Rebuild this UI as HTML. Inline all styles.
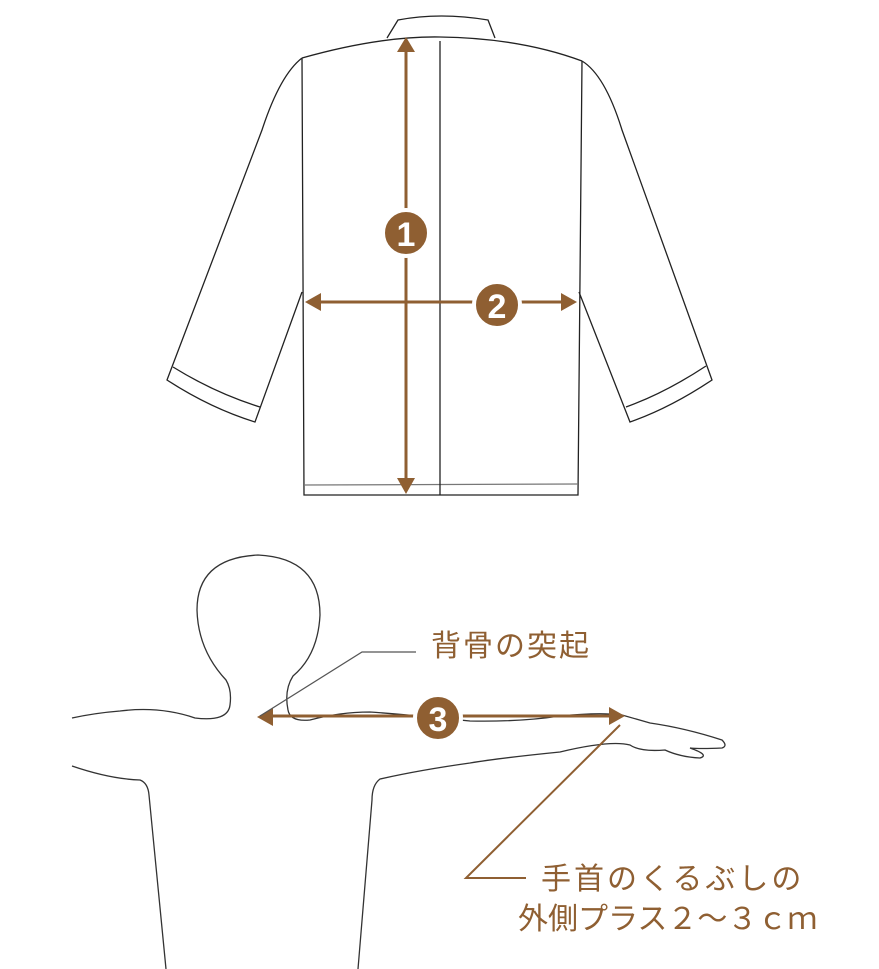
<!DOCTYPE html>
<html><head><meta charset="utf-8"><style>
html,body{margin:0;padding:0;background:#fff}
svg{display:block}
text{font-family:"Liberation Sans","Noto Sans CJK JP",sans-serif;fill:#8f5f32}
</style></head><body>
<svg width="879" height="969" viewBox="0 0 879 969" xmlns="http://www.w3.org/2000/svg">
<g fill="none" stroke="#222" stroke-width="1.3">
<path d="M387,38 L398,20 Q440,12 488,20 L495,38"/>
<path d="M302,58 Q380,36 440,37 Q520,38 582,61"/>
<path d="M302,58 L304,495 L578,495 L582,61"/>
<path d="M304,485 L578,484" stroke="#777"/>
<path d="M440,41 L440,495"/>
<path d="M302,58 Q280,75 262,130 L167,380 Q210,408 255,422 L302,292"/>
<path d="M173,367 Q215,393 260,407"/>
<path d="M582,61 Q605,75 622,130 L712,380 Q670,408 630,422 L579,292"/>
<path d="M706,366 Q665,393 626,407"/>
</g>
<g stroke="#8f5f32" stroke-width="3" fill="#8f5f32">
<line x1="406" y1="50" x2="406" y2="480"/>
<polygon points="406,37 397,52 415,52" stroke="none"/>
<polygon points="406,494 397,478 415,478" stroke="none"/>
<line x1="318" y1="302" x2="562" y2="302"/>
<polygon points="305,302 321,293 321,311" stroke="none"/>
<polygon points="577,302 561,293 561,311" stroke="none"/>
<circle cx="406" cy="233" r="23" stroke="#fff" stroke-width="4"/>
<circle cx="497" cy="305" r="23" stroke="#fff" stroke-width="4"/>
</g>
<text x="406" y="246" font-size="34" font-weight="bold" text-anchor="middle" style="fill:#fff">1</text>
<text x="497" y="318" font-size="34" font-weight="bold" text-anchor="middle" style="fill:#fff">2</text>

<g fill="none" stroke="#333" stroke-width="1.3">
<path d="M288,710 Q284,690 293,676 Q318,655 320,615 Q320,558 258,555 Q197,558 197,610 Q198,650 226,680 Q232,690 230,705 Q228,722 195,718 Q160,706 120,711 Q95,713 72,718"/>
<path d="M288,710 Q290,722 310,720 Q340,712 370,712 Q400,714 470,721 Q520,722 560,716 Q600,712 622,715 L650,723 Q685,728 722,740 Q728,746 722,748 Q700,749 690,748 Q710,755 700,758 Q680,757 665,750 Q640,752 630,745 Q610,740 560,752 Q500,758 470,763 Q420,770 380,779 Q372,785 372,800 L358,969"/>
<path d="M72,766 Q110,779 140,780 Q148,783 149,795 L166,969"/>
</g>
<g stroke="#8f5f32" stroke-width="3" fill="#8f5f32">
<line x1="270" y1="716" x2="612" y2="716"/>
<polygon points="257,717 273,708 273,726" stroke="none"/>
<polygon points="625,716 609,707 609,725" stroke="none"/>
<circle cx="438" cy="718" r="23" stroke="#fff" stroke-width="4"/>
</g>
<text x="438" y="731" font-size="34" font-weight="bold" text-anchor="middle" style="fill:#fff">3</text>
<polyline points="260,716 362,652 416,652" fill="none" stroke="#555" stroke-width="1.3"/>
<polyline points="620,725 466,878 526,878" fill="none" stroke="#8f5f32" stroke-width="2"/>
<text x="431" y="656" font-size="30" letter-spacing="2">背骨の突起</text>
<text x="541" y="889" font-size="30" letter-spacing="3">手首のくるぶしの</text>
<text x="518" y="929" font-size="30" letter-spacing="0">外側プラス２〜３ｃｍ</text>
</svg>
</body></html>
